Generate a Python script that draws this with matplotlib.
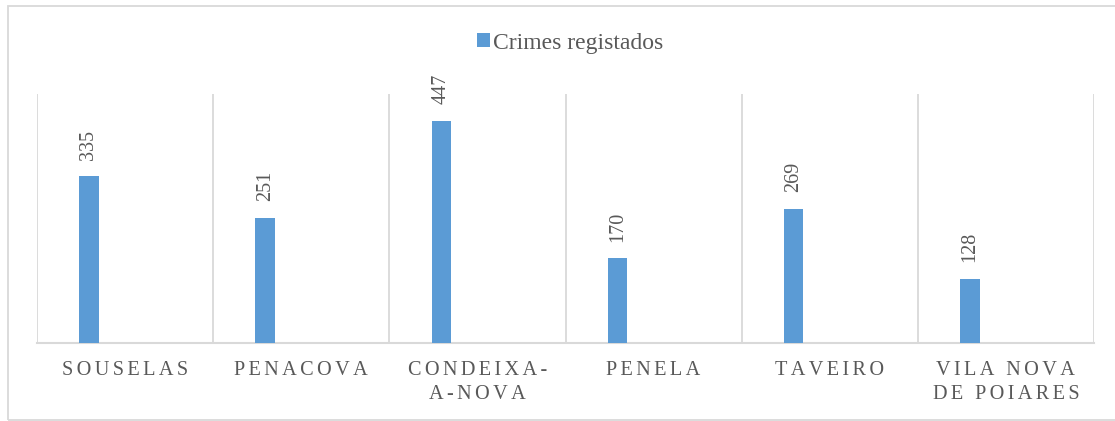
import matplotlib
matplotlib.use('Agg')
import matplotlib.pyplot as plt
from matplotlib.patches import Rectangle, Patch

categories = ['SOUSELAS', 'PENACOVA', 'CONDEIXA-\nA-NOVA', 'PENELA', 'TAVEIRO', 'VILA NOVA\nDE POIARES']
crimes = [335, 251, 447, 170, 269, 128]
series_name = 'Crimes registados'

BAR = '#5B9BD5'
TXT = '#595959'
GRID = '#D9D9D9'
SERIF = ['Liberation Serif', 'DejaVu Serif']
GAP = '\u2006'


def spaced(label):
    # imitate letter spacing with narrow spaces
    lines = []
    for line in label.split('\n'):
        words = [GAP.join(w) for w in line.split(' ')]
        lines.append((GAP + ' ' + GAP).join(words))
    return '\n'.join(lines)


W, H = 1115, 421
fig = plt.figure(figsize=(W / 100, H / 100), dpi=100)
ax = fig.add_axes([37 / W, (H - 342.7) / H, (1094 - 37) / W, (342.7 - 94.2) / H])

n = len(categories)
xs = [i + 0.295 for i in range(n)]
ax.bar(xs, crimes, width=0.111, color=BAR, zorder=3)

for x, v in zip(xs, crimes):
    ax.annotate(str(v), (x, v), xytext=(0, 12), textcoords='offset points',
                rotation=90, ha='center', va='bottom', fontsize=14.5,
                color=TXT, family=SERIF)

ax.set_xlim(0, n)
ax.set_ylim(0, 500)
for i in range(n + 1):
    ax.axvline(i, color=GRID, lw=1.3, zorder=1)

ax.set_xticks([i + 0.5 for i in range(n)])
ax.set_xticklabels([spaced(c) for c in categories], fontsize=14.6, color=TXT,
                   family=SERIF, linespacing=1.35)
ax.tick_params(axis='x', length=0, pad=13)
ax.set_yticks([])
for s in ['top', 'left', 'right']:
    ax.spines[s].set_visible(False)
ax.spines['bottom'].set_color(GRID)
ax.spines['bottom'].set_linewidth(1.5)

handle = Patch(facecolor=BAR, edgecolor='none', label=series_name)
fig.legend(handles=[handle], loc='center', bbox_to_anchor=(570 / W, 1 - 43 / H),
           frameon=False, prop={'family': SERIF, 'size': 17}, labelcolor=TXT,
           handlelength=0.55, handleheight=0.55, handletextpad=0.15)

fig.patches.append(Rectangle((8 / W, 0.8 / H), 1.2, (H - 6.8) / H,
                             transform=fig.transFigure, fill=False,
                             edgecolor=GRID, lw=1.3))

fig.savefig('out.png', dpi=100)
